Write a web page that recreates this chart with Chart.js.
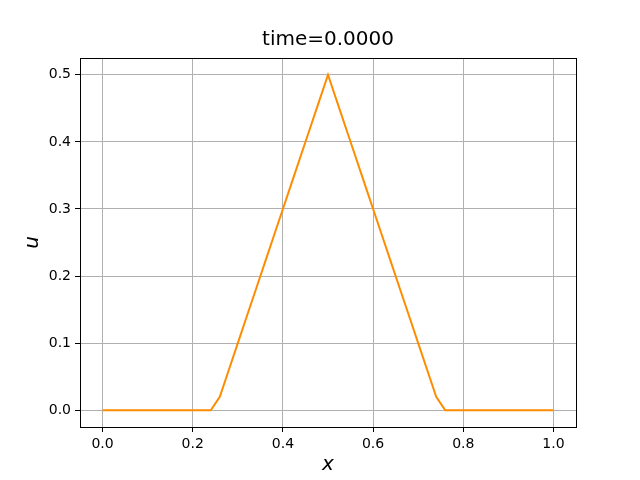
<!DOCTYPE html>
<html>
<head>
<meta charset="utf-8">
<script src="https://cdn.jsdelivr.net/npm/chart.js@4"></script>
<style>
  html, body { margin: 0; padding: 0; background: #fff; }
  #plot { display: block; }
</style>
</head>
<body>
<canvas id="plot" width="640" height="480"></canvas>
<script>
// grid points and solution values at time=0
var xs = [0.00, 0.02, 0.04, 0.06, 0.08, 0.10, 0.12, 0.14, 0.16, 0.18,
          0.20, 0.22, 0.24, 0.26, 0.28, 0.30, 0.32, 0.34, 0.36, 0.38,
          0.40, 0.42, 0.44, 0.46, 0.48, 0.50, 0.52, 0.54, 0.56, 0.58,
          0.60, 0.62, 0.64, 0.66, 0.68, 0.70, 0.72, 0.74, 0.76, 0.78,
          0.80, 0.82, 0.84, 0.86, 0.88, 0.90, 0.92, 0.94, 0.96, 0.98, 1.00];
var us = [0, 0, 0, 0, 0, 0, 0, 0, 0, 0,
          0, 0, 0, 0.02, 0.06, 0.10, 0.14, 0.18, 0.22, 0.26,
          0.30, 0.34, 0.38, 0.42, 0.46, 0.50, 0.46, 0.42, 0.38, 0.34,
          0.30, 0.26, 0.22, 0.18, 0.14, 0.10, 0.06, 0.02, 0, 0,
          0, 0, 0, 0, 0, 0, 0, 0, 0, 0, 0];
var xTicks = [0.0, 0.2, 0.4, 0.6, 0.8, 1.0];
var yTicks = [0.0, 0.1, 0.2, 0.3, 0.4, 0.5];
var titleText = 'time=0.0000';
var xLabel = 'x';
var yLabel = 'u';

var points = xs.map(function (x, i) {
    return { x: x, y: us[i] };
});

var frame = {
    id: 'frame',
    afterDraw: function (chart) {
        var ctx = chart.ctx;
        var a = chart.chartArea;
        ctx.save();
        ctx.strokeStyle = '#000';
        ctx.lineWidth = 1;
        ctx.strokeRect(Math.round(a.left) + 0.5, Math.round(a.top) + 0.5,
            Math.round(a.right - a.left), Math.round(a.bottom - a.top));
        ctx.fillStyle = '#000';
        ctx.textAlign = 'center';
        ctx.textBaseline = 'middle';
        ctx.font = '20px "DejaVu Sans"';
        ctx.fillText(titleText, (a.left + a.right) / 2, 40);
        ctx.font = 'italic 20px "DejaVu Sans"';
        ctx.fillText(xLabel, (a.left + a.right) / 2, 465);
        ctx.translate(33, (a.top + a.bottom) / 2);
        ctx.rotate(-Math.PI / 2);
        ctx.fillText(yLabel, 0, 0);
        ctx.restore();
    }
};

function gridOpts() {
    return {
        color: '#b0b0b0',
        lineWidth: 1,
        drawTicks: true,
        tickLength: 5,
        tickColor: '#000',
        tickWidth: 1
    };
}

var ctx = document.getElementById('plot').getContext('2d');
var chart = new Chart(ctx, {
    type: 'line',
    data: {
        datasets: [{
            data: points,
            borderColor: '#ff8c00',
            borderWidth: 2,
            pointRadius: 0,
            fill: false,
            tension: 0
        }]
    },
    options: {
        responsive: false,
        animation: false,
        devicePixelRatio: 1,
        layout: { padding: { top: 58, right: 64, left: 0, bottom: 0 } },
        plugins: {
            legend: { display: false },
            title: { display: false },
            tooltip: { enabled: false }
        },
        scales: {
            x: {
                type: 'linear',
                min: -0.05,
                max: 1.05,
                border: { display: false },
                grid: gridOpts(),
                afterBuildTicks: function (axis) {
                    axis.ticks = xTicks.map(function (v) { return { value: v }; });
                },
                afterFit: function (axis) { axis.height = 53; },
                ticks: {
                    color: '#000',
                    padding: 4,
                    font: { family: 'DejaVu Sans', size: 14 },
                    maxRotation: 0,
                    callback: function (v) { return v.toFixed(1); }
                }
            },
            y: {
                type: 'linear',
                min: -0.025,
                max: 0.525,
                border: { display: false },
                grid: gridOpts(),
                afterBuildTicks: function (axis) {
                    axis.ticks = yTicks.map(function (v) { return { value: v }; });
                },
                afterFit: function (axis) { axis.width = 80; },
                ticks: {
                    color: '#000',
                    padding: 4,
                    font: { family: 'DejaVu Sans', size: 14 },
                    callback: function (v) { return v.toFixed(1); }
                }
            }
        }
    },
    plugins: [frame]
});
</script>
</body>
</html>
